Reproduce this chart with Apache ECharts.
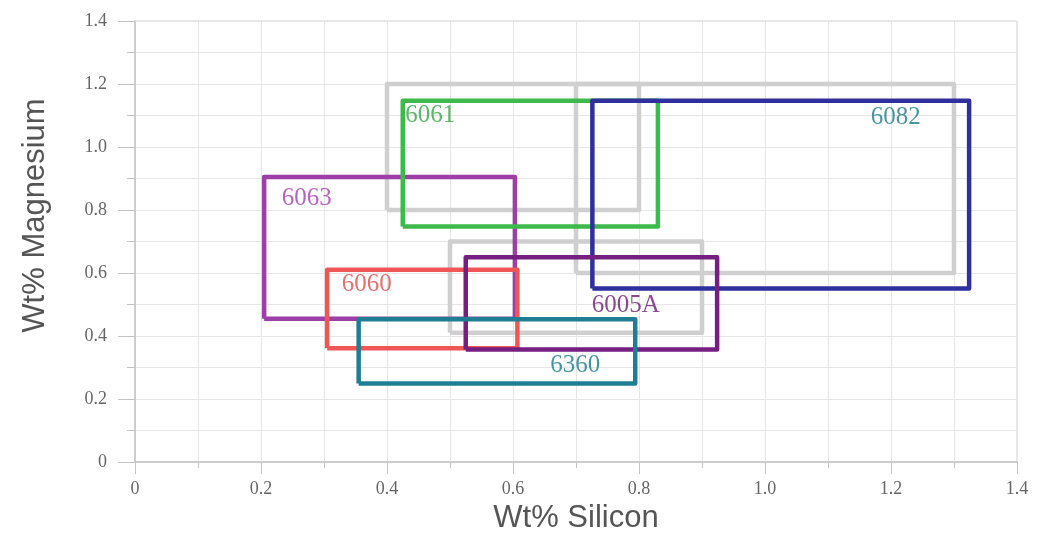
<!DOCTYPE html>
<html>
<head>
<meta charset="utf-8">
<script src="https://cdn.jsdelivr.net/npm/echarts@6/dist/echarts.min.js"></script>
<style>
  html, body { margin: 0; padding: 0; background: #fff; }
  #alloyChart { width: 1038px; height: 535px; }
</style>
</head>
<body>
<div id="alloyChart"></div>
<script>
// alloy boxes: [si min, si max, mg min, mg max] (wt%)
let grayBoxes = [
  [0.4, 0.8, 0.8, 1.2],
  [0.7, 1.3, 0.6, 1.2],
  [0.5, 0.9, 0.41, 0.7]
];
let alloyNames = ["6063", "6061", "6082", "6060", "6005A", "6360"];
let alloyBoxes = [
  [0.205, 0.603, 0.455, 0.905],
  [0.425, 0.83, 0.748, 1.147],
  [0.726, 1.324, 0.551, 1.147],
  [0.305, 0.607, 0.361, 0.61],
  [0.525, 0.924, 0.357, 0.65],
  [0.355, 0.794, 0.249, 0.453]
];
// where each name is written (left edge, middle)
let labelX = [0.233, 0.429, 1.168, 0.328, 0.725, 0.659];
let labelY = [0.836, 1.1, 1.095, 0.563, 0.497, 0.306];

let lineColors = ["#9c3fa7", "#3dba4b", "#2f2f9e", "#f05656", "#751f80", "#1f7e94"];
let textColors = ["#a43fae", "#35a445", "#1e7a8a", "#d4504f", "#6a1c74", "#1e7b8c"];

let myChart = echarts.init(document.getElementById("alloyChart"));

// turn a box into a closed outline
function outline(b) {
  return [[b[0], b[2]], [b[1], b[2]], [b[1], b[3]], [b[0], b[3]], [b[0], b[2]]];
}

let series = [];
grayBoxes.forEach((b, i) => {
  series.push({
    name: "gray" + i,
    type: "line",
    data: outline(b),
    symbol: "none",
    silent: true,
    lineStyle: { color: "#cfcfcf", width: 4.5, join: "round" },
    z: 2
  });
});
alloyBoxes.forEach((b, i) => {
  series.push({
    name: alloyNames[i],
    type: "line",
    data: outline(b),
    symbol: "none",
    silent: true,
    lineStyle: { color: lineColors[i], width: 4.5, join: "round" },
    z: 3
  });
});
series.push({
  name: "labels",
  type: "scatter",
  symbolSize: 0,
  z: 5,
  data: alloyNames.map((n, i) => ({
    value: [labelX[i], labelY[i]],
    name: n,
    label: { color: textColors[i] }
  })),
  label: {
    show: true,
    position: "right",
    distance: 0,
    formatter: (p) => p.name,
    fontFamily: "Liberation Serif",
    fontSize: 25
  }
});

let fmt = (v) => (v === 0 ? "0" : v.toFixed(1));

myChart.setOption({
  animation: false,
  grid: {
    left: 135,
    right: 21,
    top: 21,
    bottom: 73,
    outerBoundsMode: "none",
    show: true,
    borderColor: "#d0d0d0",
    borderWidth: 1
  },
  xAxis: {
    type: "value",
    min: 0,
    max: 1.4,
    interval: 0.2,
    name: "Wt% Silicon",
    nameLocation: "middle",
    nameGap: 39,
    nameTextStyle: { fontFamily: "Liberation Sans", fontSize: 31, color: "#555" },
    axisLine: { show: true, lineStyle: { color: "#c4c4c4", width: 1.5 } },
    axisTick: { show: true, length: 12, lineStyle: { color: "#c4c4c4" } },
    minorTick: { show: true, splitNumber: 2, length: 6, lineStyle: { color: "#c4c4c4" } },
    splitLine: { show: true, lineStyle: { color: "#e6e6e6" } },
    minorSplitLine: { show: true, lineStyle: { color: "#e6e6e6" } },
    axisLabel: {
      margin: 18,
      formatter: fmt,
      fontFamily: "Liberation Serif",
      fontSize: 18,
      color: "#666"
    }
  },
  yAxis: {
    type: "value",
    min: 0,
    max: 1.4,
    interval: 0.2,
    name: "Wt% Magnesium",
    nameLocation: "middle",
    nameGap: 84,
    nameTextStyle: {
      fontFamily: "Liberation Sans",
      fontSize: 31,
      color: "#555",
      padding: [0, 0, 0, 52]
    },
    axisLine: { show: true, lineStyle: { color: "#c4c4c4", width: 1.5 } },
    axisTick: { show: true, length: 17, lineStyle: { color: "#c4c4c4" } },
    minorTick: { show: true, splitNumber: 2, length: 8, lineStyle: { color: "#c4c4c4" } },
    splitLine: { show: true, lineStyle: { color: "#e6e6e6" } },
    minorSplitLine: { show: true, lineStyle: { color: "#e6e6e6" } },
    axisLabel: {
      margin: 28,
      formatter: fmt,
      fontFamily: "Liberation Serif",
      fontSize: 18,
      color: "#666"
    }
  },
  series: series
});
</script>
</body>
</html>
